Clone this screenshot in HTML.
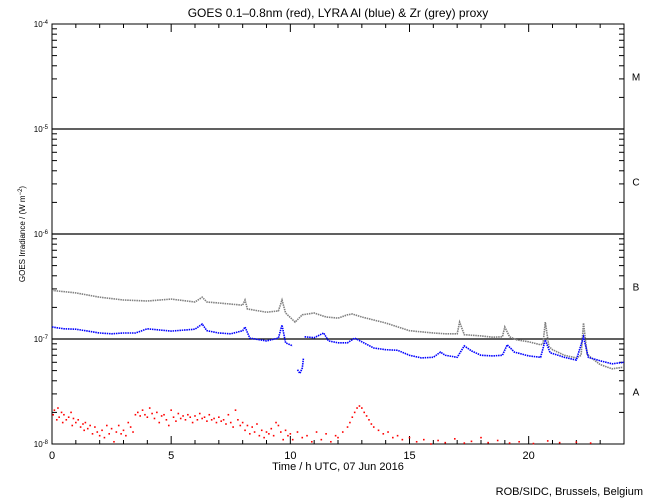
<!DOCTYPE html>
<html><head><meta charset="utf-8"><style>
body{margin:0;background:#fff;}
svg{display:block;font-family:"Liberation Sans",sans-serif;}
</style></head><body>
<svg id="c" width="650" height="500">
<rect width="650" height="500" fill="#fff"/>
<text x="338" y="17" text-anchor="middle" font-size="12">GOES 0.1–0.8nm (red), LYRA Al (blue) &amp; Zr (grey) proxy</text>
<text transform="translate(25,234) rotate(-90)" text-anchor="middle" font-size="8">GOES Irradiance / (W m<tspan baseline-shift="super" font-size="6">−2</tspan>)</text>
<text x="338" y="470" text-anchor="middle" font-size="11">Time / h UTC, 07 Jun 2016</text>
<text x="643" y="495" text-anchor="end" font-size="11">ROB/SIDC, Brussels, Belgium</text>
<g id="ax"></g>
<g id="marks"></g>
</svg>
<script>
const xTicks=[0,5,10,15,20];
const decades=[-8,-7,-6,-5,-4];
const classes=['A','B','C','M'];
const greyT=[0,1,2,3,4,5,6,6.3,6.5,7,8,8.1,8.2,9,9.5,9.65,9.8,10.2,10.5,11,11.5,12,12.4,12.6,13,14,15,16,16.5,17,17.1,17.3,18,18.5,18.9,19,19.2,19.5,20,20.5,20.6,20.7,20.85,21,21.5,22,22.2,22.3,22.45,22.6,23,23.5,24];
const greyV=[2.9e-7,2.75e-7,2.5e-7,2.35e-7,2.3e-7,2.4e-7,2.25e-7,2.5e-7,2.25e-7,2.2e-7,2.1e-7,2.35e-7,1.93e-7,1.8e-7,1.85e-7,2.35e-7,1.77e-7,1.45e-7,1.7e-7,1.77e-7,1.62e-7,1.58e-7,1.7e-7,1.73e-7,1.62e-7,1.42e-7,1.2e-7,1.14e-7,1.12e-7,1.12e-7,1.45e-7,1.1e-7,1.07e-7,1.04e-7,1.05e-7,1.3e-7,1.05e-7,0.98e-7,0.94e-7,0.88e-7,0.9e-7,1.45e-7,0.85e-7,0.79e-7,0.70e-7,0.66e-7,0.7e-7,1.42e-7,0.72e-7,0.67e-7,0.57e-7,0.52e-7,0.54e-7];
const blueT=[0,0.5,1,1.5,2,2.5,3,3.5,4,5,6,6.3,6.5,7,7.5,8,8.1,8.3,9,9.5,9.65,9.8,10.1];
const blueV=[1.3e-7,1.25e-7,1.24e-7,1.19e-7,1.14e-7,1.12e-7,1.14e-7,1.14e-7,1.25e-7,1.19e-7,1.24e-7,1.39e-7,1.2e-7,1.14e-7,1.12e-7,1.2e-7,1.3e-7,1.02e-7,0.96e-7,1.02e-7,1.36e-7,0.92e-7,0.86e-7];
const blueDipT=[10.3,10.4,10.5,10.55];
const blueDipV=[0.51e-7,0.47e-7,0.53e-7,0.65e-7];
const blue2T=[10.6,11,11.4,11.6,12,12.4,12.7,13,13.5,14,14.5,15,15.5,16,16.3,16.5,17,17.3,17.6,18,18.5,18.9,19.1,19.4,20,20.5,20.7,20.9,21.5,22,22.3,22.5,23,23.5,24];
const blue2V=[1.05e-7,1.03e-7,1.14e-7,0.96e-7,0.92e-7,0.92e-7,1.02e-7,0.94e-7,0.82e-7,0.79e-7,0.78e-7,0.70e-7,0.66e-7,0.67e-7,0.75e-7,0.70e-7,0.67e-7,0.86e-7,0.77e-7,0.70e-7,0.69e-7,0.70e-7,0.88e-7,0.75e-7,0.69e-7,0.67e-7,0.98e-7,0.74e-7,0.67e-7,0.63e-7,1.05e-7,0.67e-7,0.62e-7,0.58e-7,0.60e-7];
const redT=[0.05,0.1,0.2,0.25,0.3,0.4,0.45,0.5,0.6,0.7,0.8,0.85,0.9,1.0,1.1,1.2,1.3,1.35,1.4,1.5,1.6,1.7,1.8,1.9,2.0,2.1,2.2,2.3,2.4,2.5,2.6,2.7,2.8,2.9,3.0,3.1,3.2,3.3,3.4,3.5,3.6,3.7,3.8,3.9,4.0,4.1,4.2,4.3,4.4,4.5,4.6,4.7,4.8,4.9,5.0,5.1,5.2,5.3,5.4,5.5,5.6,5.7,5.8,5.9,6.0,6.1,6.2,6.3,6.4,6.5,6.6,6.7,6.8,6.9,7.0,7.1,7.2,7.3,7.4,7.5,7.6,7.7,7.8,7.9,8.0,8.1,8.2,8.3,8.4,8.5,8.6,8.7,8.8,8.9,9.0,9.1,9.2,9.3,9.4,9.5,9.6,9.7,9.8,9.9,10.0,10.1,10.3,10.5,10.7,10.9,11.1,11.3,11.5,11.7,11.9,12.0,12.2,12.4,12.5,12.6,12.7,12.8,12.9,13.0,13.1,13.2,13.3,13.4,13.5,13.7,13.9,14.1,14.3,14.5,14.7,15.0,15.3,15.6,15.9,16.2,16.5,16.9,17.3,17.6,18.0,18.3,18.7,19.2,19.6,20.2,20.8,21.3,22.0,22.6,23.4];
const redV=[1.9e-8,2.1e-8,1.7e-8,2.2e-8,1.8e-8,2.0e-8,1.6e-8,1.9e-8,1.7e-8,1.8e-8,2.0e-8,1.5e-8,1.75e-8,1.6e-8,1.7e-8,1.45e-8,1.55e-8,1.35e-8,1.6e-8,1.4e-8,1.5e-8,1.25e-8,1.45e-8,1.3e-8,1.2e-8,1.35e-8,1.15e-8,1.5e-8,1.25e-8,1.4e-8,1.05e-8,1.3e-8,1.5e-8,1.25e-8,1.35e-8,1.2e-8,1.6e-8,1.45e-8,1.3e-8,1.9e-8,2.0e-8,1.85e-8,2.1e-8,1.9e-8,1.8e-8,2.2e-8,1.95e-8,1.75e-8,2.0e-8,1.6e-8,1.85e-8,1.9e-8,1.7e-8,1.5e-8,2.1e-8,1.8e-8,1.65e-8,1.95e-8,1.75e-8,1.85e-8,1.7e-8,1.9e-8,1.8e-8,1.6e-8,1.85e-8,1.7e-8,1.95e-8,1.75e-8,1.8e-8,1.65e-8,1.9e-8,1.7e-8,1.75e-8,1.6e-8,1.8e-8,1.65e-8,1.7e-8,1.55e-8,1.9e-8,1.6e-8,1.45e-8,2.1e-8,1.7e-8,1.5e-8,1.6e-8,1.35e-8,1.5e-8,1.25e-8,1.45e-8,1.3e-8,1.55e-8,1.2e-8,1.35e-8,1.15e-8,1.3e-8,1.25e-8,1.4e-8,1.2e-8,1.6e-8,1.5e-8,1.3e-8,1.1e-8,1.35e-8,1.2e-8,1.25e-8,1.1e-8,1.3e-8,1.15e-8,1.2e-8,1.05e-8,1.3e-8,1.1e-8,1.25e-8,1.05e-8,1.2e-8,1.15e-8,1.3e-8,1.45e-8,1.6e-8,1.8e-8,2.0e-8,2.2e-8,2.3e-8,2.2e-8,2.0e-8,1.85e-8,1.7e-8,1.55e-8,1.45e-8,1.35e-8,1.25e-8,1.3e-8,1.15e-8,1.2e-8,1.1e-8,1.15e-8,1.05e-8,1.1e-8,1.0e-8,1.08e-8,1.03e-8,1.12e-8,1.02e-8,1.06e-8,1.15e-8,1.03e-8,1.08e-8,1.02e-8,1.05e-8,1.01e-8,1.07e-8,1.03e-8,1.04e-8,1.02e-8];

const X0=52,X1=624,Y0=24,Y1=444;
const xs=t=>X0+(t/24)*(X1-X0);
const ys=v=>Y1-(Math.log10(v)+8)/4*(Y1-Y0);
const NS='http://www.w3.org/2000/svg';
const ax=document.getElementById('ax'),mk=document.getElementById('marks');
function el(tag,attrs,parent){const e=document.createElementNS(NS,tag);for(const k in attrs)e.setAttribute(k,attrs[k]);parent.appendChild(e);return e;}

const frame=el('rect',{x:X0,y:Y0,width:X1-X0,height:Y1-Y0,fill:'none',stroke:'#000','stroke-width':1},ax);


for(let h=0;h<=24;h++){
  const x=xs(h),L=(h%5===0)?8:4;
  const t1=el('line',{x1:x,x2:x,y1:Y0,y2:Y0+L,stroke:'#000'},ax);
  
  
  const t2=el('line',{x1:x,x2:x,y1:Y1,y2:Y1-L,stroke:'#000'},ax);
  
  
}
xTicks.forEach(h=>{
  const t=el('text',{x:xs(h),y:Y1+15,'text-anchor':'middle','font-size':11},ax);
  t.textContent=h;
  
  
});
decades.forEach((d,i)=>{
  const y=ys(Math.pow(10,d));
  const lab=el('text',{x:48,y:y+3,'text-anchor':'end','font-size':8},ax);
  lab.innerHTML='10<tspan baseline-shift="super" font-size="6">'+d+'</tspan>';
  
  
  if(d>-8&&d<-4){
    const g=el('line',{x1:X0,x2:X1,y1:y,y2:y,stroke:'#000','stroke-width':1.2},ax);
    
    
  }
  if(d<-4){
    for(let m=2;m<=9;m++){
      const yy=ys(m*Math.pow(10,d));
      const a=el('line',{x1:X0,x2:X0+5,y1:yy,y2:yy,stroke:'#000'},ax);
      
      
      const b=el('line',{x1:X1,x2:X1-5,y1:yy,y2:yy,stroke:'#000'},ax);
      
      
    }
    const c=el('text',{x:636,y:(ys(Math.pow(10,d))+ys(Math.pow(10,d+1)))/2+4,'text-anchor':'middle','font-size':10},ax);
    c.textContent=classes[i];
    
    
  }
});
function line(T,V,color,name){
  const p=el('polyline',{points:T.map((t,i)=>xs(t).toFixed(1)+','+ys(V[i]).toFixed(1)).join(' '),fill:'none',stroke:color,'stroke-width':1.6,'stroke-dasharray':'1.5 0.8'},mk);
  
  
}
line(greyT,greyV,'#808080','zr-proxy-series');
line(blueT,blueV,'#0000ff','al-proxy-series');
line(blueDipT,blueDipV,'#0000ff','al-proxy-dip');
line(blue2T,blue2V,'#0000ff','al-proxy-series-2');
const nRed=Math.min(redT.length,redV.length);
for(let i=0;i<nRed;i++){
  const r=el('rect',{x:xs(redT[i])-0.8,y:ys(redV[i])-0.8,width:1.6,height:1.6,fill:'#ff0000'},mk);
  
  
}
</script>
</body></html>
